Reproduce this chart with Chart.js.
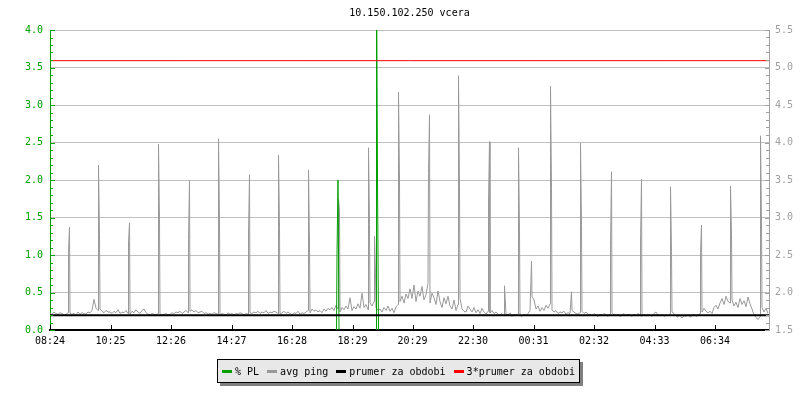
<!DOCTYPE html>
<html>
<head>
<meta charset="utf-8">
<script src="https://cdn.jsdelivr.net/npm/chart.js@4.4.1/dist/chart.umd.min.js"></script>
<style>
  body { margin: 0; background: #fff; }
  #wrap { position: relative; width: 800px; height: 400px; }
  #legend {
    position: absolute; left: 217px; top: 359px; width: 361px; height: 22px;
    background: #e8e8e8; border: 1px solid #000; box-shadow: 3px 3px 0 #808080;
    font: 10px 'DejaVu Sans Mono', monospace; color: #000;
    display: flex; align-items: center; justify-content: center; gap: 8px; white-space: nowrap;
  }
  #legend i { display: inline-block; width: 10px; height: 3px; margin-right: 3px; vertical-align: middle; }
</style>
</head>
<body>
<div id="wrap">
  <canvas id="c" width="800" height="400"></canvas>
  <div id="legend"></div>
</div>
<script>
// time axis labels (minutes since 08:24 are taken from them)
const tickLabels = ['08:24', '10:25', '12:26', '14:27', '16:28', '18:29', '20:29', '22:30', '00:31', '02:32', '04:33', '06:34']
const xMax = 1438

// avg ping baseline, one value every 4 minutes (right axis)
const pingBase = [
  1.72,1.71,1.74,1.72,1.71,1.73,1.72,1.70,1.71,1.73,1.72,1.71,1.72,1.70,1.74,1.71,1.73,1.72,1.71,1.74,1.73,1.76,1.91,1.79,1.76,1.78,1.75,1.73,1.76,1.74,
  1.74,1.72,1.75,1.73,1.77,1.72,1.74,1.73,1.76,1.72,1.71,1.75,1.73,1.77,1.74,1.72,1.76,1.78,1.73,1.71,1.70,1.72,1.71,1.70,1.72,1.71,1.70,1.71,1.72,1.70,
  1.71,1.73,1.72,1.74,1.73,1.75,1.72,1.74,1.76,1.73,1.75,1.77,1.74,1.76,1.73,1.74,1.75,1.72,1.73,1.71,1.72,1.71,1.73,1.72,1.71,1.70,1.72,1.71,1.70,1.73,
  1.71,1.72,1.70,1.72,1.71,1.73,1.72,1.70,1.72,1.71,1.73,1.72,1.74,1.73,1.75,1.72,1.74,1.73,1.76,1.72,1.74,1.73,1.75,1.74,1.72,1.71,1.73,1.75,1.72,1.74,
  1.72,1.70,1.73,1.72,1.75,1.71,1.73,1.72,1.74,1.76,1.73,1.78,1.75,1.77,1.74,1.76,1.73,1.78,1.75,1.79,1.77,1.80,1.76,1.83,1.78,1.74,1.80,1.77,1.82,1.78,
  1.93,1.76,1.81,1.78,1.85,1.79,1.99,1.80,1.84,1.77,1.86,1.82,1.88,1.80,1.76,1.78,1.74,1.80,1.76,1.82,1.75,1.79,1.73,1.81,1.84,1.88,1.95,1.86,1.98,1.92,
  2.05,1.92,2.10,1.88,2.02,1.95,2.08,1.90,1.97,2.12,1.86,1.99,1.93,1.84,2.02,1.88,1.80,1.93,1.85,1.95,1.82,1.78,1.90,1.76,1.84,1.92,1.78,1.75,1.74,1.82,
  1.78,1.74,1.80,1.73,1.77,1.72,1.79,1.74,1.71,1.75,1.73,1.76,1.72,1.74,1.71,1.70,1.72,1.69,1.71,1.70,1.73,1.68,1.71,1.69,1.72,1.70,1.68,1.71,1.69,1.72,
  1.76,1.95,1.90,1.78,1.82,1.75,1.80,1.76,1.83,1.79,1.85,1.77,1.74,1.76,1.72,1.74,1.73,1.75,1.71,1.73,1.72,1.76,1.74,1.72,1.71,1.73,1.75,1.72,1.74,1.71,
  1.71,1.69,1.72,1.70,1.68,1.71,1.69,1.72,1.70,1.68,1.71,1.73,1.70,1.69,1.71,1.68,1.70,1.72,1.69,1.71,1.70,1.68,1.71,1.69,1.72,1.70,1.68,1.71,1.69,1.70,
  1.70,1.68,1.72,1.74,1.70,1.69,1.71,1.68,1.70,1.69,1.71,1.74,1.72,1.69,1.67,1.70,1.66,1.69,1.68,1.70,1.67,1.69,1.71,1.68,1.70,1.72,1.74,1.79,1.75,1.73,
  1.75,1.72,1.80,1.83,1.78,1.86,1.92,1.84,1.95,1.88,1.86,1.90,1.82,1.87,1.80,1.92,1.84,1.89,1.81,1.94,1.85,1.78,1.70,1.67,1.64,1.68,1.80,1.74,1.79,1.72
]
const baseStep = 4

// ping spikes [minute, value]
const pingSpikes = [
  [37, 2.55], [39, 2.87], [97, 3.70], [99, 2.77], [157, 2.66], [159, 2.93],
  [217, 3.98], [219, 2.97], [277, 2.71], [279, 3.49], [337, 4.05], [339, 2.97],
  [397, 2.78], [399, 3.57], [457, 3.83], [459, 2.87], [517, 3.63], [519, 2.66],
  [577, 3.25], [579, 3.09], [637, 3.93], [639, 2.91], [649, 2.75], [651, 2.25],
  [697, 4.67], [699, 3.49], [757, 3.59], [759, 4.37], [817, 4.89], [819, 3.41],
  [877, 3.22], [879, 4.01], [909, 2.09], [937, 3.93], [939, 2.83], [963, 2.42],
  [1001, 4.75], [1003, 3.39], [1043, 2.01], [1061, 3.99], [1063, 2.91],
  [1121, 2.63], [1123, 3.61], [1181, 2.66], [1183, 3.51], [1241, 3.41], [1243, 2.55],
  [1301, 2.53], [1303, 2.90], [1361, 3.42], [1363, 2.77], [1421, 4.09], [1423, 2.93]
]

// packet loss % (left axis), null = break
const plLoss = [[573, 0], [574, 1.0], [576, 2.0], [578, 0], null, [652, 0], [653, 5.0], [655, 2.0], [657, 0]]

const periodAvg = 1.697

const seriesNames = ['% PL', 'avg ping', 'prumer za obdobi', '3*prumer za obdobi']
const seriesColors = ['#00a000', '#999999', '#000000', '#ff0000']

let tickMinutes = tickLabels.map(t => {
  let p = t.split(':')
  return ((+p[0]) * 60 + (+p[1]) - (8 * 60 + 24) + 1440) % 1440
})

let pingData = pingBase.map((v, i) => ({ x: i * baseStep, y: v }))
  .concat(pingSpikes.map(s => ({ x: s[0], y: s[1] })))
  .sort((a, b) => a.x - b.x)

let plData = []
plLoss.forEach((p, i) => {
  if (p) plData.push({ x: p[0], y: p[1] })
  else plData.push({ x: plLoss[i - 1][0] + 1, y: null })
})

// little inward ticks like rrdtool
const axisTicks = {
  id: 'axisTicks',
  afterDatasetsDraw(chart) {
    const { ctx, chartArea: a, scales } = chart
    ctx.save()
    ctx.lineWidth = 1
    ctx.beginPath()
    ctx.strokeStyle = seriesColors[0]
    for (let i = 0; i <= 40; i++) {
      let y = Math.round(scales.y.getPixelForValue(i / 10)) + 0.5
      ctx.moveTo(a.left, y)
      ctx.lineTo(a.left + (i % 5 == 0 ? 5 : 3), y)
    }
    ctx.stroke()
    ctx.beginPath()
    ctx.strokeStyle = '#a0a0a0'
    for (let i = 0; i <= 40; i++) {
      let y = Math.round(scales.y2.getPixelForValue(1.5 + i / 10)) + 0.5
      ctx.moveTo(a.right, y)
      ctx.lineTo(a.right - (i % 5 == 0 ? 4 : 3), y)
    }
    ctx.stroke()
    ctx.beginPath()
    ctx.strokeStyle = '#000'
    tickMinutes.forEach(m => {
      let x = Math.round(scales.x.getPixelForValue(m)) + 0.5
      ctx.moveTo(x, a.bottom)
      ctx.lineTo(x, a.bottom - 5)
    })
    ctx.stroke()
    ctx.restore()
  }
}

Chart.defaults.font.family = "'DejaVu Sans Mono', monospace"
Chart.defaults.font.size = 10

let chart = new Chart(document.getElementById('c'), {
  type: 'line',
  data: {
    datasets: [
      { label: seriesNames[3], data: [{ x: 0, y: 3 * periodAvg }, { x: xMax, y: 3 * periodAvg }], borderColor: seriesColors[3], borderWidth: 1, yAxisID: 'y2', order: 0 },
      { label: seriesNames[2], data: [{ x: 0, y: periodAvg }, { x: xMax, y: periodAvg }], borderColor: seriesColors[2], borderWidth: 2, yAxisID: 'y2', order: 1 },
      { label: seriesNames[0], data: plData, borderColor: seriesColors[0], borderWidth: 1, yAxisID: 'y', order: 2 },
      { label: seriesNames[1], data: pingData, borderColor: seriesColors[1], borderWidth: 1, yAxisID: 'y2', order: 3 }
    ]
  },
  options: {
    responsive: false,
    animation: false,
    devicePixelRatio: 1,
    elements: { point: { radius: 0 }, line: { tension: 0 } },
    layout: { padding: 0 },
    plugins: {
      legend: { display: false },
      tooltip: { enabled: false },
      title: {
        display: true, text: '10.150.102.250 vcera', fullSize: false, color: '#000',
        font: { size: 10, weight: 'normal' }, padding: { top: 7, bottom: 11 }
      }
    },
    scales: {
      x: {
        type: 'linear', min: 0, max: xMax,
        afterBuildTicks: s => { s.ticks = tickMinutes.map(v => ({ value: v })) },
        ticks: { autoSkip: false, maxRotation: 0, color: '#000', padding: 5, callback: (v, i) => tickLabels[i] },
        grid: { display: false, drawTicks: false },
        border: { color: '#000', width: 2 },
        afterFit: s => { s.height = 70 }
      },
      y: {
        position: 'left', min: 0, max: 4,
        ticks: { stepSize: 0.5, color: seriesColors[0], padding: 7, callback: v => v.toFixed(1) },
        grid: { color: '#c0c0c0', drawTicks: false },
        border: { color: seriesColors[0], width: 1 },
        afterFit: s => { s.width = 50 }
      },
      y2: {
        position: 'right', min: 1.5, max: 5.5,
        ticks: { stepSize: 0.5, color: '#a0a0a0', padding: 6, callback: v => v.toFixed(1) },
        grid: { display: false, drawTicks: false },
        border: { color: '#a0a0a0', width: 1 },
        afterFit: s => { s.width = 31 }
      }
    }
  },
  plugins: [axisTicks]
})

// legend box under the plot
let lg = document.getElementById('legend')
seriesNames.forEach((n, i) => {
  let s = document.createElement('span')
  s.innerHTML = '<i style="background:' + seriesColors[i] + '"></i>'
  s.appendChild(document.createTextNode(n))
  lg.appendChild(s)
})
</script>
</body>
</html>
